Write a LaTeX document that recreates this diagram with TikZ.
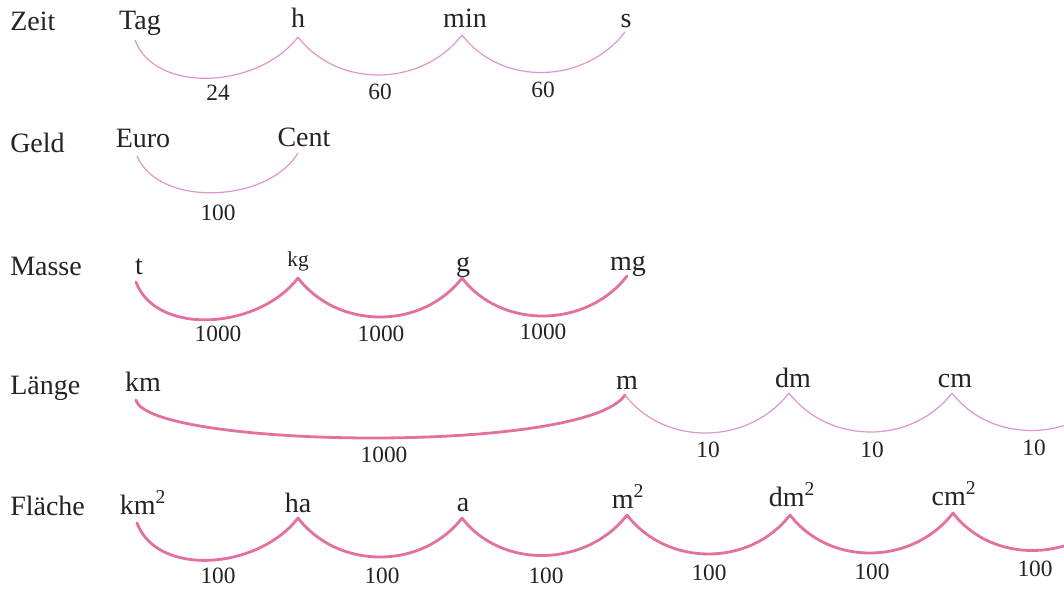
\documentclass[tikz,border=0pt]{standalone}
\usepackage{fontspec}
\setmainfont{Liberation Serif}
\usetikzlibrary{calc}
\definecolor{thinpink}{RGB}{222,150,205}
\definecolor{thickpink}{RGB}{226,112,160}
\definecolor{ink}{RGB}{35,35,40}
\tikzset{
  rowlabel/.style={anchor=base west,inner sep=0pt,text=ink,font=\fontsize{21}{24}\selectfont},
  unit/.style={anchor=base,inner sep=0pt,text=ink,font=\fontsize{21}{24}\selectfont},
  smallunit/.style={anchor=base,inner sep=0pt,text=ink,font=\fontsize{16}{18}\selectfont},
  factor/.style={anchor=base,inner sep=0pt,text=ink,font=\fontsize{17.5}{20}\selectfont},
  thinarc/.style={draw=thinpink,line width=0.9pt},
  thickarc/.style={draw=thickpink,line width=2.1pt,line cap=round},
}
% first arc of a row: steep start
\newcommand{\firstarc}[3]{\draw[#1] (#2) .. controls ($(#2)+(20,54)$) and ($(#3)+(-40,52)$) .. (#3);}
% following arcs: round, circular-like
\newcommand{\arcfromto}[3]{\draw[#1] (#2) .. controls ($(#2)+(40,52)$) and ($(#3)+(-40,52)$) .. (#3);}
\begin{document}
\begin{tikzpicture}[x=0.75pt,y=-0.75pt]
\clip (0,0) rectangle (1064,589);
\fill[white] (0,0) rectangle (1064,589);

% ---------------- Zeit
\node[rowlabel] (lzeit) at (10,30) {Zeit};
\node[unit] (tag) at (140,29) {Tag};
\node[unit] (hh) at (298,27) {h};
\node[unit] (min) at (465,27) {min};
\node[unit] (ss) at (626,27) {s};
\coordinate (z0) at (135,40);
\coordinate (z1) at (298,37);
\coordinate (z2) at (462,35);
\coordinate (z3) at (625,32);
\firstarc{thinarc}{z0}{z1}
\arcfromto{thinarc}{z1}{z2}
\arcfromto{thinarc}{z2}{z3}
\node[factor] (f24) at (218,100) {24};
\node[factor] (f60a) at (380,99) {60};
\node[factor] (f60b) at (543,97) {60};

% ---------------- Geld
\node[rowlabel] (lgeld) at (10,152) {Geld};
\node[unit] (euro) at (143,147) {Euro};
\node[unit] (cent) at (304,146) {Cent};
\coordinate (g0) at (137,156);
\coordinate (g1) at (298,153);
\draw[thinarc] (g0) .. controls ($(g0)+(22,52)$) and ($(g1)+(-30,50)$) .. (g1);
\node[factor] (f100g) at (218,220) {100};

% ---------------- Masse
\node[rowlabel] (lmasse) at (10,275) {Masse};
\node[unit] (tt) at (139,274) {t};
\node[smallunit] (kg) at (298,266) {kg};
\node[unit] (gg) at (463,271) {g};
\node[unit] (mg) at (628,270) {mg};
\coordinate (m0) at (136,282);
\coordinate (m1) at (298,278);
\coordinate (m2) at (462,278);
\coordinate (m3) at (627,276);
\firstarc{thickarc}{m0}{m1}
\arcfromto{thickarc}{m1}{m2}
\arcfromto{thickarc}{m2}{m3}
\node[factor] (f1000a) at (218,341) {1000};
\node[factor] (f1000b) at (381,341) {1000};
\node[factor] (f1000c) at (543,339) {1000};

% ---------------- Länge
\node[rowlabel] (llaenge) at (10,394) {Länge};
\node[unit] (km) at (143,391) {km};
\node[unit] (mm) at (627,389) {m};
\node[unit] (dm) at (793,387) {dm};
\node[unit] (cm) at (955,387) {cm};
\coordinate (l0) at (136,400);
\coordinate (l1) at (625,395);
\coordinate (l2) at (789,393);
\coordinate (l3) at (952,393);
\coordinate (l4) at (1116,390);
\draw[thickarc] (l0) .. controls ($(l0)+(12,48)$) and ($(l1)+(-40,60)$) .. (l1);
\arcfromto{thinarc}{l1}{l2}
\arcfromto{thinarc}{l2}{l3}
\arcfromto{thinarc}{l3}{l4}
\node[factor] (f1000l) at (384,462) {1000};
\node[factor] (f10a) at (708,457) {10};
\node[factor] (f10b) at (872,457) {10};
\node[factor] (f10c) at (1034,455) {10};

% ---------------- Fläche
\node[rowlabel] (lflaeche) at (10,515) {Fläche};
\node[unit] (km2) at (143,514) {km\textsuperscript{2}};
\node[unit] (ha) at (298,512) {ha};
\node[unit] (aa) at (463,511) {a};
\node[unit] (m2u) at (628,508) {m\textsuperscript{2}};
\node[unit] (dm2) at (792,506) {dm\textsuperscript{2}};
\node[unit] (cm2) at (954,505) {cm\textsuperscript{2}};
\coordinate (a0) at (137,523);
\coordinate (a1) at (298,518);
\coordinate (a2) at (462,518);
\coordinate (a3) at (627,515);
\coordinate (a4) at (790,515);
\coordinate (a5) at (953,513);
\coordinate (a6) at (1117,510);
\firstarc{thickarc}{a0}{a1}
\arcfromto{thickarc}{a1}{a2}
\arcfromto{thickarc}{a2}{a3}
\arcfromto{thickarc}{a3}{a4}
\arcfromto{thickarc}{a4}{a5}
\arcfromto{thickarc}{a5}{a6}
\node[factor] (f100a) at (218,583) {100};
\node[factor] (f100b) at (382,583) {100};
\node[factor] (f100c) at (546,583) {100};
\node[factor] (f100d) at (709,580) {100};
\node[factor] (f100e) at (872,579) {100};
\node[factor] (f100f) at (1035,576) {100};
\end{tikzpicture}
\end{document}
